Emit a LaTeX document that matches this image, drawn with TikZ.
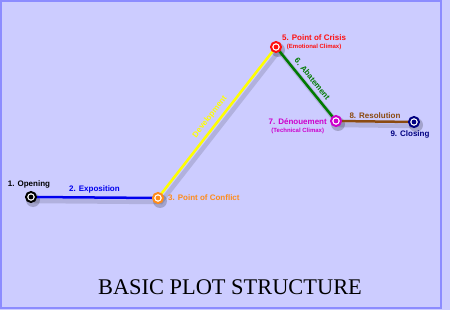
\documentclass[tikz,border=0pt]{standalone}
\usepackage{fontspec}
\setmainfont{Liberation Serif}
\setsansfont{Liberation Sans}
\usetikzlibrary{positioning}
\definecolor{bgplot}{HTML}{CCCCFF}
\definecolor{frameplot}{HTML}{8C8CFF}
\definecolor{expoblue}{HTML}{0000EE}
\definecolor{conforange}{HTML}{FF8C1A}
\definecolor{devyellow}{HTML}{FFFF00}
\definecolor{crisisred}{HTML}{FF1010}
\definecolor{abategreen}{HTML}{007A00}
\definecolor{denmagenta}{HTML}{CC00CC}
\definecolor{resbrown}{HTML}{8B4A10}
\definecolor{closenavy}{HTML}{000080}
\begin{document}
\begin{tikzpicture}[
    x=1pt, y=-1pt,
    lbl/.style={font=\sffamily\bfseries\fontsize{8}{8}\selectfont, inner sep=1pt},
    target/.style={circle, draw=#1, fill=white, line width=2pt,
        minimum size=10pt, inner sep=0pt,
        path picture={\fill[#1] (path picture bounding box.center) circle (2.4pt);}},
    arc/.style={line width=2.5pt},
    shade/.style={line width=4.5pt, black, opacity=.13,
        transform canvas={shift={(3pt,-4pt)}}}]
    % Fond et cadre.
    \fill[bgplot] (0,0) rectangle (450,310);
    \draw[frameplot,line width=2pt] (1,1) rectangle (441,308);

    \coordinate (open) at (31,197);
    \coordinate (confl) at (158,198);
    \coordinate (crisis) at (276,47);
    \coordinate (denoue) at (336,121);
    \coordinate (close) at (414,122);

    % Ombres portees.
    \draw[shade] (open) -- (confl) -- (crisis) -- (denoue) -- (close);
    \foreach \p in {open,confl,crisis,denoue,close} {
        \fill[black,opacity=.2,transform canvas={shift={(2pt,-3pt)}}] (\p) circle (7pt);
    }

    \draw[arc,expoblue] (open) -- (confl)
        node[lbl,midway,above=2pt] {2. Exposition};
    \draw[arc,devyellow] (confl) -- (crisis)
        node[lbl,midway,sloped,above=3pt] {Development};
    \draw[arc,abategreen] (crisis) -- (denoue)
        node[lbl,midway,sloped,above=3pt] {6. Abatement};
    \draw[arc,resbrown] (denoue) -- (close)
        node[lbl,midway,above=1pt] {8. Resolution};

    \node[target=black] (openmark) at (open) {};
    \node[target=conforange] (conflmark) at (confl) {};
    \node[target=crisisred] (crisismark) at (crisis) {};
    \node[target=denmagenta] (denouemark) at (denoue) {};
    \node[target=closenavy] (closemark) at (close) {};

    \node[lbl,above=2pt of openmark,xshift=-2pt] (openlbl) {1. Opening};
    \node[lbl,conforange,right=3pt of conflmark] (confllbl) {3. Point of Conflict};
    \node[lbl,crisisred,align=center,anchor=west] (crisislbl)
        at ([xshift=5pt,yshift=5pt]crisis)
        {5. Point of Crisis\\{\fontsize{6}{6}\selectfont(Emotional Climax)}};
    \node[lbl,denmagenta,align=center,left=2pt of denouemark,yshift=-5pt] (denouelbl)
        {7. Dénouement\\{\fontsize{6}{6}\selectfont(Technical Climax)}};
    \node[lbl,closenavy,below=1.5pt of closemark,xshift=-4pt] (closelbl) {9. Closing};

    \node[font=\fontsize{22.4}{24}\selectfont] (title) at (230,287) {BASIC PLOT STRUCTURE};
\end{tikzpicture}
\end{document}
